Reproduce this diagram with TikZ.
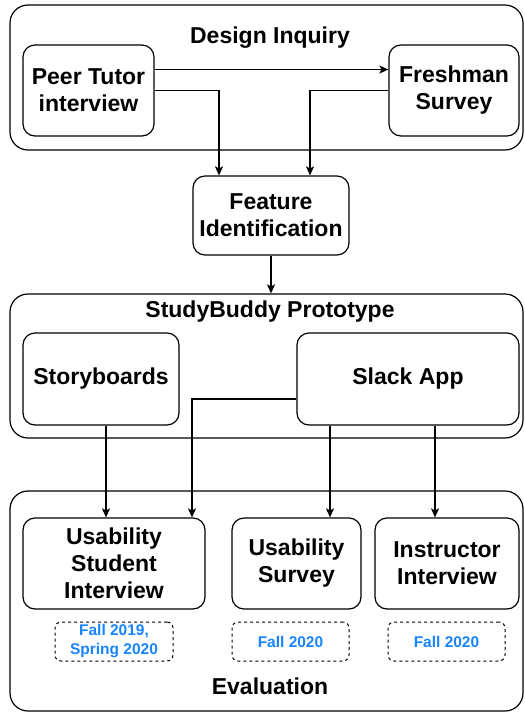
\documentclass[tikz,border=0pt]{standalone}
\usepackage{fontspec}
\setmainfont{Liberation Sans}
\usetikzlibrary{arrows.meta}
\definecolor{datecol}{RGB}{24,132,255}

\begin{document}
\begin{tikzpicture}[x=1pt,y=-1pt,
  every node/.style={font=\fontsize{23}{27}\selectfont\bfseries},
  group/.style={draw, line width=1.2pt, rounded corners=18pt, inner sep=0pt},
  box/.style={draw, line width=1.2pt, rounded corners=12pt, align=center, inner sep=0pt},
  datebox/.style={draw, dashed, line width=1pt, rounded corners=6pt, align=center, inner sep=0pt,
    text=datecol, font=\fontsize{15.5}{19}\selectfont\bfseries},
  arr/.style={-{Stealth[length=9pt,width=8pt,inset=2pt]}, line width=1.1pt}]
  \useasboundingbox (0,0) rectangle (525,713);

  % design inquiry
  \node[group, minimum width=513pt, minimum height=145pt] (inquiry) at (266.5,77.5) {};
  \node (inquirytitle) at (270,38) {Design Inquiry};
  \node[box, minimum width=131pt, minimum height=91pt] (tutor) at (88.5,90.5) {Peer Tutor\\interview};
  \node[box, minimum width=130pt, minimum height=91pt] (freshman) at (454,90.5) {Freshman\\Survey};

  \node[box, minimum width=156pt, minimum height=79pt] (feature) at (271,215.5) {Feature\\Identification};

  % prototype
  \node[group, minimum width=513pt, minimum height=144pt] (proto) at (266.5,366) {};
  \node (prototitle) at (270,312) {StudyBuddy Prototype};
  \node[box, minimum width=156pt, minimum height=92pt] (storyboards) at (101,379) {Storyboards};
  \node[box, minimum width=222pt, minimum height=92pt] (slack) at (408,379) {Slack App};

  % evaluation
  \node[group, minimum width=513pt, minimum height=220pt] (eval) at (266.5,601) {};
  \node (evaltitle) at (270,686) {Evaluation};
  \node[box, minimum width=182pt, minimum height=91pt] (usi) at (114,563.5) {Usability\\Student\\Interview};
  \node[box, minimum width=129pt, minimum height=91pt] (survey) at (296.5,563.5) {Usability\\Survey};
  \node[box, minimum width=144pt, minimum height=91pt] (instructor) at (447,563.5) {Instructor\\Interview};
  \node[datebox, minimum width=118pt, minimum height=39pt] (usidate) at (114,641.5) {Fall 2019,\\Spring 2020};
  \node[datebox, minimum width=117pt, minimum height=39pt] (surveydate) at (290.5,641.5) {Fall 2020};
  \node[datebox, minimum width=117pt, minimum height=39pt] (instructordate) at (446.5,641.5) {Fall 2020};

  % connectors
  \draw[arr] ([yshift=21pt]tutor.east) -- ([yshift=21pt]tutor.east -| freshman.west);
  \draw[arr] (tutor.east) -| ([xshift=-52pt]feature.north);
  \draw[arr] (freshman.west) -| ([xshift=39pt]feature.north);
  \draw[arr] (feature.south) -- (feature.south |- proto.north);
  \draw[arr] ([xshift=5pt]storyboards.south) -- ([xshift=5pt]storyboards.south |- usi.north);
  \draw[arr] ([yshift=-20pt]slack.west) -| ([xshift=78pt]usi.north);
  \draw[arr] ([xshift=-78pt]slack.south) -- ([xshift=-78pt]slack.south |- survey.north);
  \draw[arr] ([xshift=27pt]slack.south) -- ([xshift=27pt]slack.south |- instructor.north);
\end{tikzpicture}
\end{document}
